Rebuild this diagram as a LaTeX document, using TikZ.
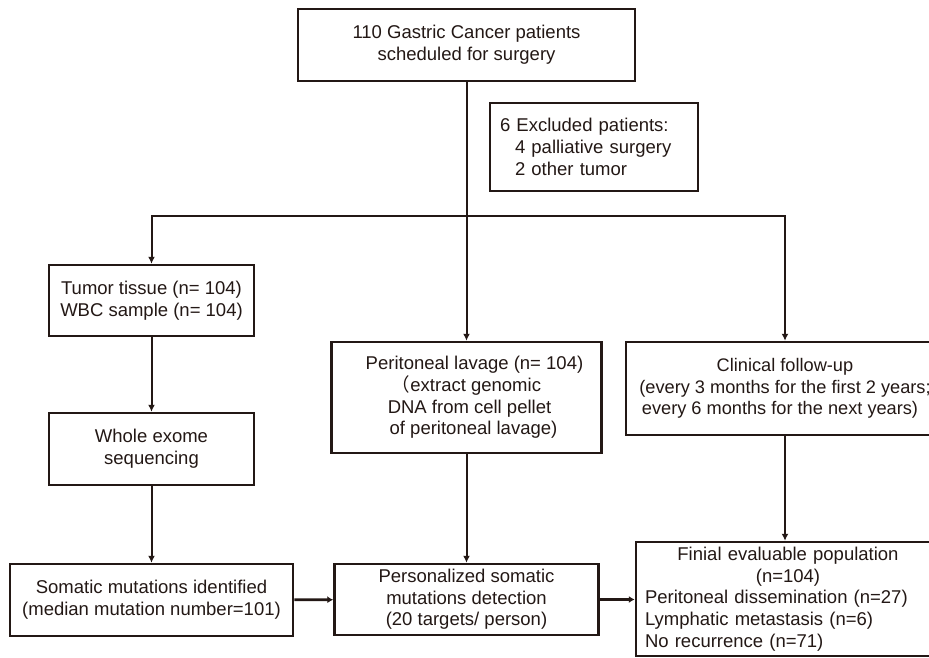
\documentclass[tikz,border=0pt]{standalone}
\usepackage{fontspec}
\setmainfont{Liberation Sans}
\newfontfamily\cjk{Noto Sans CJK SC}
\usetikzlibrary{arrows.meta}
\definecolor{ink}{RGB}{35,24,21}
\begin{document}
\begin{tikzpicture}[x=1pt,y=-1pt,
  box/.style={draw=ink, line width=2.5pt, align=center, inner sep=0pt, text=ink,
    font=\fontsize{18.5}{21.7}\selectfont},
  conn/.style={draw=ink, line width=2pt, -{Latex[length=7pt,width=7pt]}},
  hconn/.style={draw=ink, line width=2.8pt, -{Latex[length=6pt,width=7pt]}}
]
\useasboundingbox (0,0) rectangle (929,657);
\clip (0,0) rectangle (929,657);
\fill[white] (0,0) rectangle (929,657);

\node[box, minimum width=337pt, minimum height=72pt] (top) at (466.5,45)
  {110 Gastric Cancer patients\\scheduled for surgery};
\node[box, minimum width=208pt, minimum height=88pt, align=left, text width=188pt] (excl) at (594,147)
  {6 Excluded patients:\\\hspace*{15pt}4 palliative surgery\\\hspace*{15pt}2 other tumor};

\node[box, minimum width=205pt, minimum height=71pt] (tumor) at (151.5,300.5)
  {Tumor tissue (n= 104)\\WBC sample (n= 104)};
\node[box, minimum width=205pt, minimum height=72pt] (whole) at (151.5,449)
  {Whole exome\\sequencing};
\node[box, minimum width=283pt, minimum height=72pt] (soma) at (151.5,600)
  {Somatic mutations identified\\(median mutation number=101)};

\node[box, minimum width=270pt, minimum height=111pt] (peri) at (466.5,397.5)
  {\hspace*{16pt}Peritoneal lavage (n= 104)\\{\cjk （}extract genomic\\\hspace*{6pt}DNA from cell pellet\\\hspace*{14pt}of peritoneal lavage)};
\node[box, minimum width=264pt, minimum height=71pt] (pers) at (466.5,599.5)
  {Personalized somatic\\mutations detection\\(20 targets/ person)};

\node[box, minimum width=318pt, minimum height=93pt, font=\fontsize{18.2}{21.7}\selectfont] (clin) at (785,388.5)
  {Clinical follow-up\\(every 3 months for the first 2 years;\hspace*{10pt}\\every 6 months for the next years)\hspace*{10pt}};
\node[box, minimum width=304pt, minimum height=114pt, align=left, text width=286pt] (fin) at (788,599)
  {{\centering Finial evaluable population\\(n=104)\par}Peritoneal dissemination (n=27)\\Lymphatic metastasis (n=6)\\No recurrence (n=71)};

\coordinate (split) at (466.5,216);

\draw[conn] (top.south) -- (top.south |- peri.north);
\draw[conn] (split) -| (tumor.north);
\draw[conn] (split) -| (clin.north);
\draw[conn] (tumor) -- (whole);
\draw[conn] (whole) -- (soma);
\draw[conn] (peri) -- (pers);
\draw[conn] (clin.south) -- (clin.south |- fin.north);
\draw[hconn] (soma) -- (pers);
\draw[hconn] (pers.east) -- (pers.east -| fin.west);
\end{tikzpicture}
\end{document}
